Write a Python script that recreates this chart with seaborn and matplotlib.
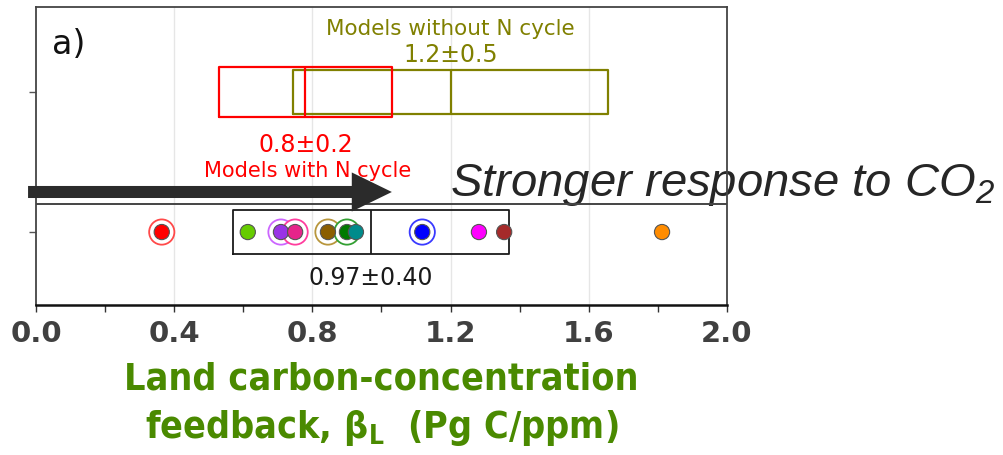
import matplotlib
matplotlib.use("Agg")
import matplotlib.pyplot as plt
import seaborn as sns
import pandas as pd

# ---- model values (land carbon-concentration feedback, Pg C/ppm) ----
model_beta = [0.364, 0.613, 0.709, 0.750, 0.845, 0.900, 0.926, 1.118, 1.282, 1.355, 1.812]
model_colors = ["#ff0000", "#66cc00", "#9933e6", "#e6248a", "#8b5e00", "#007a00",
                "#008b8b", "#0000ff", "#ff00ff", "#a52a2a", "#ff8c00"]
ring_colors = ["#ff4a4a", None, "#cc66ff", "#ff3d9e", "#b8963c", "#33a033",
               None, "#3a3aff", None, None, None]
has_n_cycle = [True, False, True, True, True, True, False, True, False, False, False]

# ---- group summaries: mean +/- one standard deviation ----
group_names = ["Models with N cycle", "Models without N cycle", "All models"]
group_mean = [0.78, 1.20, 0.97]
group_sd = [0.25, 0.455, 0.40]
group_labels = ["0.8±0.2", "1.2±0.5", "0.97±0.40"]
group_colors = ["#ff0000", "#808000", "#1a1a1a"]

x_ticks = [0.0, 0.4, 0.8, 1.2, 1.6, 2.0]
x_tick_labels = ["0.0", "0.4", "0.8", "1.2", "1.6", "2.0"]

sns.set_theme(style="white")
plt.rcParams["font.family"] = ["DejaVu Sans"]

W, H = 1004, 456
fig = plt.figure(figsize=(W / 100, H / 100), dpi=100)
ax = fig.add_axes([36 / W, 1 - 306 / H, (727 - 36) / W, (306 - 8) / H])

ROW_ALL, ROW_GROUPS = 0.0, 1.0
ax.set_xlim(0, 2.0)
ax.set_ylim(-0.521, 1.607)

# vertical grid at the major ticks
for xv in x_ticks[1:-1]:
    ax.axvline(xv, color="#e6e6e6", lw=1.0, zorder=0)

# separator between the two rows
ax.axhline(0.2, color="#444444", lw=1.4, zorder=2)

# mean +/- sd boxes drawn as box plots from precomputed statistics
box_rows = [ROW_GROUPS, ROW_GROUPS, ROW_ALL]
box_heights = [0.364, 0.314, 0.314]
draw_order = [1, 0, 2]
for i in draw_order:
    lo = group_mean[i] - group_sd[i]
    hi = group_mean[i] + group_sd[i]
    stats = [dict(med=group_mean[i], q1=lo, q3=hi, whislo=lo, whishi=hi, fliers=[])]
    lw = 1.6 if i < 2 else 1.3
    ax.bxp(stats, positions=[box_rows[i]], widths=box_heights[i], orientation="horizontal",
           showcaps=False, showfliers=False, manage_ticks=False,
           boxprops=dict(color=group_colors[i], lw=lw),
           medianprops=dict(color=group_colors[i], lw=lw),
           whiskerprops=dict(color=group_colors[i], lw=0))

# individual models
df = pd.DataFrame({"beta": model_beta, "row": ROW_ALL, "model": range(len(model_beta)),
                   "ring": ring_colors, "n": has_n_cycle})
rings = df[df["n"]]
ax.scatter(rings["beta"], rings["row"], s=330, facecolors="white",
           edgecolors=list(rings["ring"]), linewidths=1.3, zorder=3)
sns.scatterplot(data=df, x="beta", y="row", hue="model", palette=model_colors,
                s=120, edgecolor="#555555", linewidth=0.8, legend=False, ax=ax, zorder=4)

# annotations for the group boxes
ax.text(group_mean[1], 1.414, group_names[1], color=group_colors[1], fontsize=15.5,
        ha="center", va="baseline")
ax.text(group_mean[1], 1.221, group_labels[1], color=group_colors[1], fontsize=17,
        ha="center", va="baseline")
ax.text(group_mean[0], 0.579, group_labels[0], color=group_colors[0], fontsize=17,
        ha="center", va="baseline")
ax.text(group_mean[0] + 0.005, 0.40, group_names[0], color=group_colors[0], fontsize=15,
        ha="center", va="baseline")
ax.text(group_mean[2], -0.371, group_labels[2], color=group_colors[2], fontsize=17,
        ha="center", va="baseline")
ax.text(0.046, 1.279, "a)", color="#111111", fontsize=24, ha="left", va="baseline")

# direction arrow and caption
ax.arrow(-0.023, 0.286, 1.053, 0, width=0.086, head_width=0.279, head_length=0.116,
         length_includes_head=True, fc="#2b2b2b", ec="none", clip_on=False, zorder=5)
ax.text(450 / W, 1 - 196 / H, r"Stronger response to CO$_\mathregular{2}$",
        transform=fig.transFigure, fontsize=34, fontstyle="italic",
        family=["Liberation Sans"], color="#262626", ha="left", va="baseline",
        clip_on=False, zorder=1)

# axes styling
ax.set_xticks(x_ticks)
ax.set_xticklabels(x_tick_labels)
ax.set_xticks([0.2, 0.6, 1.0, 1.4, 1.8], minor=True)
ax.set_yticks([ROW_ALL, ROW_GROUPS])
ax.set_yticklabels([])
ax.tick_params(axis="x", which="both", direction="out", length=5, width=1.0,
               color="#333333", bottom=True, labelsize=21, labelcolor="#404040", pad=5)
ax.tick_params(axis="y", direction="out", length=5, width=1.0, color="#555555", left=True)
for lab in ax.get_xticklabels():
    lab.set_fontweight("bold")
for side in ["top", "left", "right"]:
    ax.spines[side].set_color("#444444")
    ax.spines[side].set_linewidth(1.3)
ax.spines["bottom"].set_color("#111111")
ax.spines["bottom"].set_linewidth(1.8)
ax.set_ylabel("")
ax.set_xlabel("Land carbon-concentration\n"
              r"feedback, β$_\mathregular{L}$  (Pg C/ppm)",
              fontsize=27, fontweight="bold", fontstretch="condensed",
              color="#4a8a00", linespacing=1.33, labelpad=10)

fig.savefig("out.png", dpi=100)
